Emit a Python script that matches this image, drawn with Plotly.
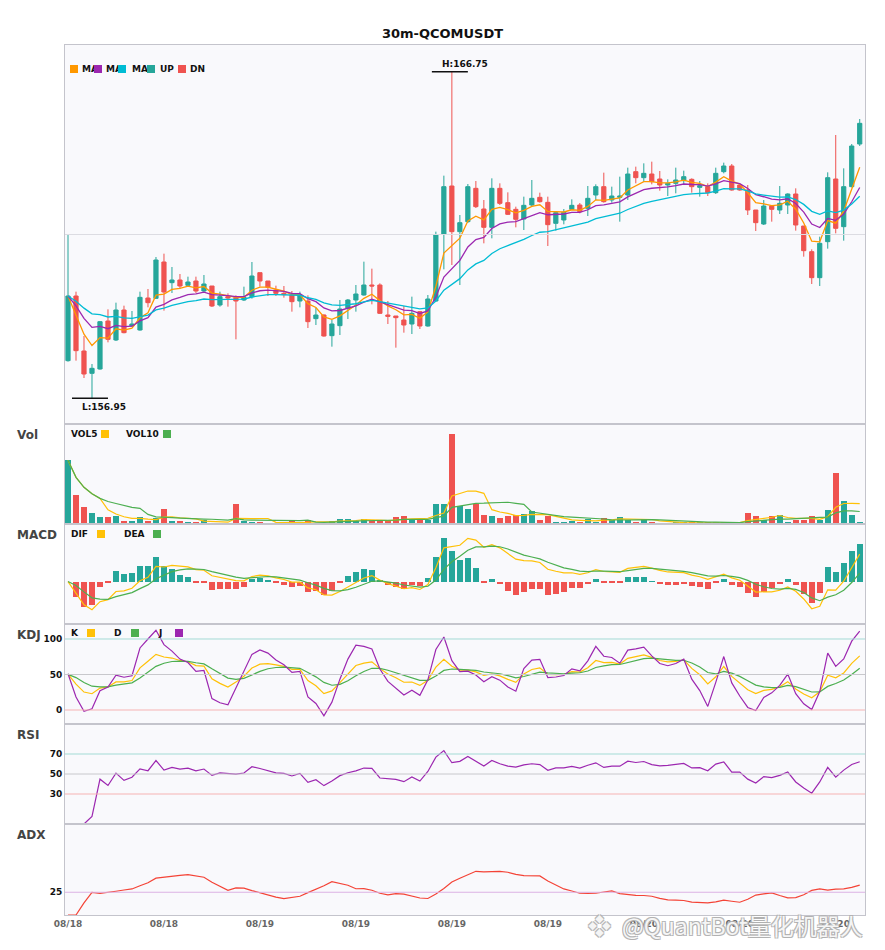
import numpy as np
import pandas as pd
import plotly.graph_objects as go
from plotly.subplots import make_subplots

# 30m QCOMUSDT candles, 100 bars starting 08/18
opens = [158.08, 160.02, 158.37, 157.70, 157.83, 159.27, 158.70, 159.60, 159.12, 159.00,
         159.96, 159.95, 161.04, 160.42, 160.50, 160.34, 160.47, 160.17, 160.32, 159.75,
         160.00, 159.98, 159.90, 160.00, 160.72, 160.47, 160.20, 160.10, 160.05, 159.87,
         159.87, 159.34, 159.45, 158.83, 159.13, 159.65, 159.90, 160.05, 160.35, 160.35,
         159.45, 159.42, 159.30, 159.18, 159.55, 159.12, 159.87, 161.88, 163.32, 161.95,
         162.25, 163.25, 162.63, 162.08, 163.25, 162.82, 162.62, 162.33, 162.75, 162.98,
         162.83, 162.20, 162.30, 162.62, 162.75, 162.65, 163.05, 163.30, 162.90, 162.98,
         163.05, 163.75, 163.57, 163.68, 163.53, 163.35, 163.40, 163.48, 163.52, 163.28,
         163.30, 163.12, 163.75, 163.92, 163.35, 163.20, 162.60, 162.18, 162.72, 162.60,
         162.75, 163.08, 162.12, 161.35, 160.57, 161.65, 163.53, 162.10, 163.30, 164.58]
highs = [161.88, 160.15, 158.82, 157.98, 159.27, 159.62, 159.82, 159.73, 159.57, 160.15,
         160.23, 161.19, 161.29, 160.89, 160.68, 160.60, 160.60, 160.65, 160.32, 160.15,
         160.10, 160.04, 160.30, 161.04, 160.72, 160.47, 160.33, 160.32, 160.17, 160.15,
         160.04, 159.67, 159.47, 159.30, 159.90, 159.93, 160.35, 161.05, 160.84, 160.40,
         159.87, 159.42, 159.72, 160.00, 159.57, 160.05, 161.95, 163.63, 166.75, 162.45,
         163.38, 163.47, 162.90, 163.55, 163.40, 163.13, 162.70, 163.00, 163.50, 163.12,
         163.00, 162.57, 162.63, 162.92, 162.81, 163.32, 163.37, 163.72, 163.30, 163.60,
         163.87, 163.90, 164.00, 164.05, 163.77, 163.52, 163.87, 163.78, 163.55, 163.47,
         163.40, 163.87, 164.02, 163.98, 163.35, 163.35, 162.60, 162.90, 162.72, 163.32,
         163.10, 163.25, 162.12, 161.42, 161.80, 163.73, 164.85, 163.85, 164.58, 165.33]
lows = [158.05, 158.08, 157.56, 156.95, 157.81, 158.63, 158.67, 158.90, 159.10, 158.98,
        159.68, 159.93, 159.58, 160.11, 160.24, 160.30, 160.11, 160.12, 159.69, 159.70,
        159.70, 158.72, 159.87, 159.94, 160.30, 160.02, 160.02, 159.97, 159.55, 159.68,
        159.06, 159.15, 158.80, 158.50, 158.85, 159.33, 159.55, 160.03, 159.77, 159.48,
        159.18, 158.47, 158.92, 158.88, 159.03, 159.10, 159.85, 160.82, 160.95, 160.35,
        162.21, 162.66, 161.60, 161.75, 162.75, 162.45, 162.08, 162.00, 162.70, 162.82,
        161.52, 161.98, 162.17, 162.60, 162.50, 162.42, 162.90, 162.82, 162.82, 162.25,
        162.90, 163.40, 163.45, 163.37, 163.18, 163.02, 163.10, 163.35, 163.12, 163.00,
        163.02, 163.08, 163.70, 163.18, 163.18, 162.45, 161.97, 162.15, 162.25, 162.48,
        162.48, 161.98, 161.20, 160.38, 160.32, 161.44, 161.90, 161.68, 163.28, 164.52]
closes = [160.02, 158.38, 157.68, 157.85, 159.25, 158.72, 159.60, 158.92, 159.18, 159.98,
          159.82, 161.10, 160.14, 160.50, 160.32, 160.44, 160.17, 160.38, 159.72, 160.00,
          159.96, 159.87, 159.98, 160.62, 160.47, 160.28, 160.10, 160.06, 159.85, 160.05,
          159.25, 159.45, 158.82, 159.18, 159.63, 159.90, 160.08, 160.35, 160.32, 159.50,
          159.41, 159.37, 159.15, 159.50, 159.12, 159.93, 161.85, 163.30, 161.95, 162.22,
          163.30, 162.70, 162.08, 163.25, 162.80, 162.47, 162.32, 162.74, 162.95, 162.85,
          162.16, 162.52, 162.53, 162.74, 162.55, 162.95, 163.30, 162.85, 163.02, 163.02,
          163.68, 163.57, 163.70, 163.45, 163.35, 163.40, 163.50, 163.60, 163.30, 163.33,
          163.12, 163.70, 163.92, 163.20, 163.20, 162.60, 162.22, 162.72, 162.62, 162.80,
          163.08, 162.15, 161.38, 160.57, 161.60, 163.57, 162.05, 163.30, 164.52, 165.20]
volumes = [2552, 1180, 672, 448, 272, 272, 340, 112, 112, 300,
           112, 240, 620, 140, 140, 60, 60, 180, 40, 40,
           40, 820, 112, 72, 60, 40, 40, 40, 112, 40,
           180, 40, 40, 112, 220, 220, 112, 220, 112, 112,
           112, 272, 340, 180, 180, 180, 820, 820, 3620, 712,
           620, 808, 380, 340, 248, 340, 380, 420, 540, 180,
           340, 60, 100, 140, 100, 220, 60, 260, 180, 300,
           180, 100, 220, 100, 32, 32, 60, 60, 60, 60,
           60, 88, 60, 32, 32, 460, 340, 180, 340, 380,
           60, 180, 180, 340, 180, 580, 2060, 940, 380, 100]
tick_bars = [0, 12, 24, 36, 48, 60, 72, 84, 96]
tick_labels = ["08/18", "08/18", "08/19", "08/19", "08/19", "08/19", "08/20", "08/20", "08/20"]

UP, DN = "#26a69a", "#ef5350"
ORANGE, PURPLE, CYAN = "#ff9800", "#9c27b0", "#00bcd4"
YEL, GRN = "#ffc107", "#4caf50"
BORDER = "#c4c4cc"
FONT = "DejaVu Sans"

df = pd.DataFrame({"open": opens, "high": highs, "low": lows, "close": closes, "vol": volumes})
idx = np.arange(len(df))
c, h, l = df["close"], df["high"], df["low"]

# moving averages (exponential) on close, simple on volume
ma5 = c.ewm(span=5, adjust=False).mean()
ma10 = c.ewm(span=10, adjust=False).mean()
ma20 = c.ewm(span=20, adjust=False).mean()
vol5 = df["vol"].rolling(5, min_periods=1).mean()
vol10 = df["vol"].rolling(10, min_periods=1).mean()

# fast MACD (6, 13, 5)
dif = c.ewm(span=6, adjust=False).mean() - c.ewm(span=13, adjust=False).mean()
dea = dif.ewm(span=5, adjust=False).mean()
hist = 2 * (dif - dea)

low9 = l.rolling(9, min_periods=1).min()
high9 = h.rolling(9, min_periods=1).max()
rsv = (c - low9) / (high9 - low9) * 100
k_vals, d_vals = [], []
kp = dp = 50.0
for v in rsv:
    kp = kp * 2 / 3 + v / 3
    dp = dp * 2 / 3 + kp / 3
    k_vals.append(kp)
    d_vals.append(dp)
k_line = pd.Series(k_vals)
d_line = pd.Series(d_vals)
j_line = 3 * k_line - 2 * d_line

delta = c.diff()
gain = delta.clip(lower=0).ewm(com=13).mean()
loss = (-delta.clip(upper=0)).ewm(com=13).mean()
rsi = 100 * gain / (gain + loss)

prev_c = c.shift()
tr = pd.concat([h - l, (h - prev_c).abs(), (l - prev_c).abs()], axis=1).max(axis=1)
up_move = h.diff()
dn_move = -l.diff()
pdm = pd.Series(np.where((up_move > dn_move) & (up_move > 0), up_move, 0.0))
mdm = pd.Series(np.where((dn_move > up_move) & (dn_move > 0), dn_move, 0.0))
atr = tr.ewm(span=14, adjust=False).mean()
pdi = 100 * pdm.ewm(span=14, adjust=False).mean() / atr
mdi = 100 * mdm.ewm(span=14, adjust=False).mean() / atr
dx = (100 * (pdi - mdi).abs() / (pdi + mdi)).fillna(0)
adx = dx.ewm(span=14, adjust=False).mean()

bar_colors = [UP if cl >= op else DN for op, cl in zip(opens, closes)]

fig = make_subplots(rows=6, cols=1, shared_xaxes=True, vertical_spacing=0,
                    row_heights=[379, 100, 100, 100, 100, 91])

fig.add_trace(go.Candlestick(x=idx, open=df["open"], high=h, low=l, close=c,
                             increasing=dict(line=dict(color=UP, width=1), fillcolor=UP),
                             decreasing=dict(line=dict(color=DN, width=1), fillcolor=DN),
                             whiskerwidth=0), row=1, col=1)
for s, col in [(ma5, ORANGE), (ma10, PURPLE), (ma20, CYAN)]:
    fig.add_trace(go.Scatter(x=idx, y=s, mode="lines", line=dict(color=col, width=1.3)), row=1, col=1)

fig.add_trace(go.Bar(x=idx, y=df["vol"], marker_color=bar_colors, marker_line_width=0, width=0.72), row=2, col=1)
fig.add_trace(go.Scatter(x=idx, y=vol5, mode="lines", line=dict(color=YEL, width=1.2)), row=2, col=1)
fig.add_trace(go.Scatter(x=idx, y=vol10, mode="lines", line=dict(color=GRN, width=1.2)), row=2, col=1)

hist_colors = [UP if v >= 0 else DN for v in hist]
fig.add_trace(go.Bar(x=idx, y=hist, marker_color=hist_colors, marker_line_width=0, width=0.7), row=3, col=1)
fig.add_trace(go.Scatter(x=idx, y=dif, mode="lines", line=dict(color=YEL, width=1.2)), row=3, col=1)
fig.add_trace(go.Scatter(x=idx, y=dea, mode="lines", line=dict(color=GRN, width=1.2)), row=3, col=1)

fig.add_trace(go.Scatter(x=idx, y=k_line, mode="lines", line=dict(color=YEL, width=1.2)), row=4, col=1)
fig.add_trace(go.Scatter(x=idx, y=d_line, mode="lines", line=dict(color=GRN, width=1.2)), row=4, col=1)
fig.add_trace(go.Scatter(x=idx, y=j_line, mode="lines", line=dict(color=PURPLE, width=1.2)), row=4, col=1)

fig.add_trace(go.Scatter(x=idx, y=rsi, mode="lines", line=dict(color=PURPLE, width=1.2)), row=5, col=1)
fig.add_trace(go.Scatter(x=idx, y=adx, mode="lines", line=dict(color="#f44336", width=1.2)), row=6, col=1)

# reference lines
p_lo, p_hi = 156.18, 167.55
fig.add_hline(y=(p_lo + p_hi) / 2, line=dict(color="#dcdce2", width=1), row=1, col=1)
for yv, col in [(100, "#a3dbd5"), (50, "#c8c8cc"), (0, "#f6b3b3")]:
    fig.add_hline(y=yv, line=dict(color=col, width=1), row=4, col=1)
for yv, col in [(70, "#a3dbd5"), (50, "#c8c8cc"), (30, "#f6b3b3")]:
    fig.add_hline(y=yv, line=dict(color=col, width=1), row=5, col=1)
fig.add_hline(y=25, line=dict(color="#dcb2e4", width=1), row=6, col=1)

m_lo = min(dif.min(), dea.min(), hist.min())
m_hi = max(dif.max(), dea.max(), hist.max())
m_pad = 0.2 * (m_hi - m_lo)

fig.update_xaxes(range=[-0.375, 99.66], showline=True, mirror=True, linecolor=BORDER, linewidth=1,
                 showgrid=False, zeroline=False, showticklabels=False, ticks="",
                 rangeslider_visible=False)
fig.update_xaxes(row=6, col=1, showticklabels=True, tickvals=tick_bars, ticktext=tick_labels,
                 tickfont=dict(family=FONT, size=9, color="#666666", weight="bold"))
fig.update_yaxes(showline=True, mirror=True, linecolor=BORDER, linewidth=1, showgrid=False,
                 zeroline=False, showticklabels=False, ticks="")
fig.update_yaxes(row=1, col=1, range=[p_lo, p_hi])
fig.update_yaxes(row=2, col=1, range=[0, max(volumes) * 1.105])
fig.update_yaxes(row=3, col=1, range=[m_lo - m_pad, m_hi + m_pad])
tick_font = dict(family=FONT, size=9, color="#111111", weight="bold")
fig.update_yaxes(row=4, col=1, range=[-19.7, 121.1], showticklabels=True, tickvals=[0, 50, 100], tickfont=tick_font)
fig.update_yaxes(row=5, col=1, range=[0, 100], showticklabels=True, tickvals=[30, 50, 70], tickfont=tick_font)
fig.update_yaxes(row=6, col=1, range=[0, 100], showticklabels=True, tickvals=[25], tickfont=tick_font)

# the page body adds an 8px margin, so the figure is 8px smaller and shifted
OFF = 8
W, H = 885 - OFF, 950 - OFF
ML, MR, MT, MB = 65 - OFF, 20, 45 - OFF, 35
PLOT_L, PLOT_B = 65, 915


def px(x):
    return (x - PLOT_L) / (W - ML - MR)


def py(y):
    return (PLOT_B - y) / (H - MT - MB)


def label(x, y, text, size=9, color="#111111", width=None):
    kw = {}
    if width:
        kw = dict(width=width, align="left")
    fig.add_annotation(xref="paper", yref="paper", x=px(x), y=py(y), xanchor="left", yanchor="middle",
                       text=text, showarrow=False, borderpad=0,
                       font=dict(family=FONT, size=size, color=color, weight="bold"), **kw)


def square(x, y, color):
    fig.add_annotation(xref="paper", yref="paper", x=px(x), y=py(y), xanchor="left", yanchor="middle",
                       text=" ", showarrow=False, width=8, height=8, bgcolor=color, borderpad=0,
                       borderwidth=0, font=dict(size=6))


# price legend (boxes overlap the MA names)
square(70, 69, ORANGE)
label(81, 69, "MA5", width=15)
square(94, 69, PURPLE)
label(105, 69, "MA10", width=15)
square(118, 69, CYAN)
label(131, 69, "MA20", width=15)
square(147, 69, UP)
label(159, 69, "UP")
square(178, 69, DN)
label(189, 69, "DN")

label(70, 434, "VOL5")
square(101, 434, YEL)
label(125, 434, "VOL10")
square(163, 434, GRN)

label(70, 534, "DIF")
square(97, 534, YEL)
label(123, 534, "DEA")
square(153, 534, GRN)

label(70, 633, "K")
square(87, 633, YEL)
label(113, 633, "D")
square(131, 633, GRN)
label(157, 633, "J")
square(175, 633, PURPLE)

for name, yy in [("Vol", 434.5), ("MACD", 535), ("KDJ", 635), ("RSI", 735), ("ADX", 835)]:
    label(16, yy, name, size=12, color="#444444")

# high / low markers
hi_i = int(np.argmax(highs))
lo_i = int(np.argmin(lows))
fig.add_shape(type="line", xref="x", yref="y", x0=hi_i - 2.5, x1=hi_i + 2, y0=highs[hi_i], y1=highs[hi_i],
              line=dict(color="#111111", width=1.5))
fig.add_annotation(xref="x", yref="y", x=hi_i - 1.5, y=highs[hi_i], xanchor="left", yanchor="bottom",
                   text=f"H:{highs[hi_i]:.2f}", showarrow=False, yshift=1,
                   font=dict(family=FONT, size=9, color="#111111", weight="bold"))
fig.add_shape(type="line", xref="x", yref="y", x0=lo_i - 2.5, x1=lo_i + 2, y0=lows[lo_i], y1=lows[lo_i],
              line=dict(color="#111111", width=1.5))
fig.add_annotation(xref="x", yref="y", x=lo_i - 1.5, y=lows[lo_i], xanchor="left", yanchor="top",
                   text=f"L:{lows[lo_i]:.2f}", showarrow=False, yshift=-2,
                   font=dict(family=FONT, size=9, color="#111111", weight="bold"))

# watermark
wm_font = dict(family="Noto Sans CJK SC", size=23, color="rgba(255,255,255,0.9)",
               shadow="1px 1px 0 #b0b0b0, -1px -1px 0 #b0b0b0, 1px -1px 0 #b0b0b0, -1px 1px 0 #b0b0b0")
fig.add_annotation(xref="paper", yref="paper", x=px(586), y=py(925), xanchor="left", yanchor="middle",
                   text="❖", showarrow=False, font=wm_font)
fig.add_annotation(xref="paper", yref="paper", x=px(620), y=py(925), xanchor="left", yanchor="middle",
                   text="@QuantBot量化机器人", showarrow=False, font=wm_font)

fig.update_layout(
    width=W, height=H, margin=dict(l=ML, r=MR, t=MT, b=MB),
    paper_bgcolor="white", plot_bgcolor="#f9f9fc", showlegend=False, boxgap=0.25, bargap=0,
    title=dict(text="30m-QCOMUSDT", x=px(442.5), xanchor="center", xref="paper",
               y=1 - (33 - OFF) / H, yanchor="middle",
               font=dict(family=FONT, size=13, color="#111111", weight="bold")),
)

fig.write_html("out.html")
